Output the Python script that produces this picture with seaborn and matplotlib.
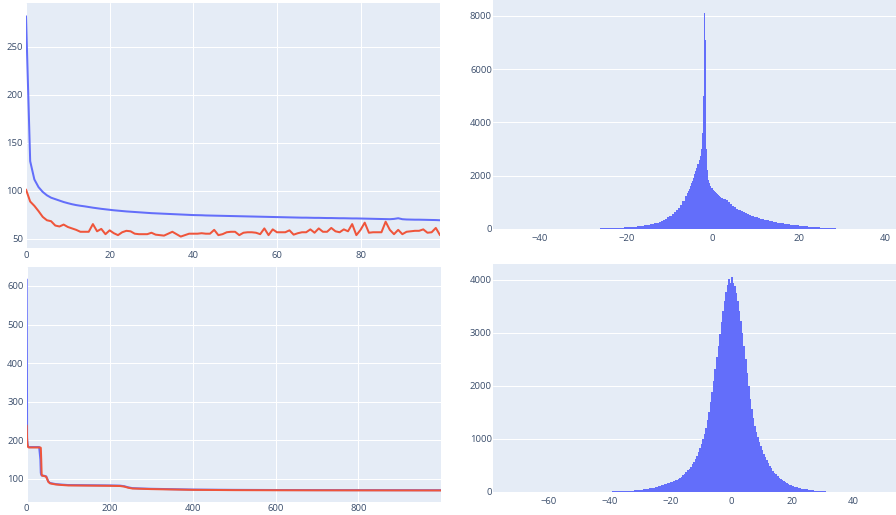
import numpy as np
import pandas as pd
import matplotlib
matplotlib.use("Agg")
import matplotlib.pyplot as plt
import seaborn as sns

# ---------------- data ----------------
# Top-left: per-epoch loss over the first 100 epochs
short_train = [282, 131, 112, 104, 99, 95.5, 93, 91.5, 90, 88.5,
               87.3, 86.2, 85.3, 84.6, 84, 83.3, 82.6, 82, 81.4, 80.9,
               80.4, 79.9, 79.5, 79.1, 78.7, 78.4, 78.1, 77.8, 77.5, 77.2,
               76.9, 76.7, 76.5, 76.3, 76.1, 75.9, 75.7, 75.5, 75.3, 75.1,
               74.9, 74.8, 74.7, 74.5, 74.4, 74.3, 74.2, 74.1, 74.0, 73.9,
               73.8, 73.7, 73.6, 73.5, 73.4, 73.3, 73.2, 73.1, 73.0, 72.9,
               72.8, 72.7, 72.6, 72.5, 72.4, 72.3, 72.2, 72.2, 72.1, 72.0,
               72.0, 71.9, 71.8, 71.8, 71.7, 71.6, 71.6, 71.5, 71.4, 71.4,
               71.3, 71.2, 71.1, 71.0, 70.9, 70.8, 70.7, 70.6, 70.9, 71.6,
               70.6, 70.3, 70.2, 70.1, 70.1, 70.0, 69.9, 69.8, 69.7, 69.5]
short_val = [101.5, 89, 84.5, 79, 73, 69.5, 68.5, 64, 63, 65,
             62.5, 61, 59.5, 57.5, 57.5, 57.5, 65.5, 58, 60.5, 55,
             59, 56, 54, 57, 58.5, 58, 55.5, 55, 55, 55,
             56.5, 54.5, 54, 53.5, 55.5, 57.5, 55, 52.5, 54, 55.5,
             55.5, 55.5, 56, 55.5, 55.5, 59.5, 54, 55, 57, 57.5,
             57.5, 54, 56.5, 57, 57, 56.5, 55, 61, 54, 60,
             57, 57, 57, 59, 54.5, 56, 57, 57, 60, 56.5,
             61, 57.5, 57.5, 61.5, 58, 57, 60, 58, 65.5, 54,
             59.5, 67, 56.5, 57, 57, 57, 68, 59.5, 55, 59.5,
             55, 57.5, 58, 58.5, 58.5, 60, 56.5, 57, 61.5, 54]

# Bottom-left: loss over 1000 epochs
long_epochs = [0, 1, 2, 3, 5, 10, 20, 30, 33, 34, 35, 36, 37, 42, 47, 49,
               52, 56, 60, 70, 80, 100, 150, 200, 225, 235, 245, 255, 270,
               300, 350, 400, 450, 500, 600, 700, 800, 900, 999]
long_train = [617, 205, 190, 184, 182, 182, 182, 182, 150, 115, 110, 109,
              108, 107.5, 106, 101, 93, 89, 88, 86, 85, 83.5, 83, 82.5,
              82, 80.5, 77.5, 75.5, 74.8, 73.8, 72.8, 71.8, 71.4, 71,
              70.6, 70.4, 70.3, 70.2, 70.1]
long_val = [238, 200, 188, 183, 181, 181, 181, 181, 181, 180, 150, 112,
            108, 107, 105, 100, 92, 88, 87, 85, 84, 82.5, 82, 81.5,
            81, 79.5, 76.5, 74.5, 74, 73, 72, 71, 70.7, 70.3,
            70, 69.8, 69.7, 69.6, 69.5]

# Top-right histogram counts (three bin regions: coarse / fine / coarse)
top_counts_left = [3, 0, 2, 0, 8, 12, 17, 22, 26, 29, 32, 35, 38, 41, 44, 48,
                   52, 58, 65, 73, 82, 92, 103, 114, 126, 139, 154, 170, 188,
                   208, 232, 260, 292, 330, 375, 425, 480, 545, 615, 695, 790,
                   900, 1030, 1220]
top_counts_mid = [1330, 1420, 1510, 1600, 1700, 1810, 1920, 2040, 2160, 2290,
                  2430, 2580, 2750, 3000, 3600, 5000, 8100, 7100, 3000, 2200,
                  1850, 1700, 1600, 1520, 1470, 1420, 1380, 1340, 1300, 1265,
                  1230, 1200]
top_counts_right = [1170, 1120, 1065, 1005, 945, 870, 810, 755, 700, 660,
                    620, 580, 545, 510, 478, 450, 423, 398, 374, 352,
                    332, 312, 294, 277, 260, 244, 229, 215, 202, 190,
                    178, 166, 155, 145, 135, 125, 116, 106, 97, 89,
                    82, 75, 68, 62, 55, 49, 43, 37, 31, 25,
                    19, 13, 9, 5, 3, 1]

# Bottom-right histogram counts
bot_counts_left = [2, 4, 5, 7, 9, 12, 15, 19, 24, 29, 36, 44, 53, 63, 75,
                   88, 103, 120, 140, 160]
bot_counts_mid = [175, 185, 198, 212, 228, 246, 265, 287, 312, 340,
                  370, 402, 437, 476, 520, 568, 622, 682, 748, 820,
                  900, 990, 1090, 1210, 1350, 1510, 1690, 1890, 2100, 2320,
                  2540, 2760, 2980, 3200, 3420, 3610, 3780, 3900, 4010, 3950,
                  4050, 3940, 3880, 3760, 3600, 3420, 3220, 3000, 2760, 2500,
                  2240, 1990, 1760, 1560, 1390, 1250, 1130, 1030, 940, 860,
                  785, 715, 650, 590, 535, 485, 440, 398, 360, 325,
                  294, 266, 240, 217, 196, 177, 160, 145, 131, 118,
                  107, 97, 88, 80]
bot_counts_right = [70, 58, 46, 36, 27, 19, 13, 8, 5, 3, 2, 1]

# ---------------- styling ----------------
BLUE = "#636EFA"
RED = "#EF553B"
BG = "#E5ECF6"
TXT = "#3a4d6b"

sns.set_style("darkgrid", {"axes.facecolor": BG, "grid.color": "white",
                           "axes.edgecolor": BG})
plt.rcParams["font.family"] = ["Open Sans", "DejaVu Sans"]
plt.rcParams["axes.unicode_minus"] = True

W, H = 896, 515
fig = plt.figure(figsize=(W / 100, H / 100), dpi=100)
fig.patch.set_facecolor("white")


def box(left, top, right, bottom):
    return [left / W, 1 - bottom / H, (right - left) / W, (bottom - top) / H]


def style(ax, xticks, yticks, xlim, ylim, xgrid=True, ypad=2.2, xpad=2.2):
    ax.set_xlim(*xlim)
    ax.set_ylim(*ylim)
    ax.set_xticks(xticks)
    ax.set_yticks(yticks)
    ax.tick_params(length=0, labelsize=6.8, colors=TXT, pad=ypad, axis="y")
    ax.tick_params(length=0, labelsize=6.8, colors=TXT, pad=xpad, axis="x")
    ax.yaxis.grid(True, color="white", linewidth=0.75)
    if xgrid:
        ax.xaxis.grid(True, color="white", linewidth=0.75)
    else:
        ax.xaxis.grid(False)
    ax.set_xlabel("")
    ax.set_ylabel("")
    for s in ax.spines.values():
        s.set_visible(False)
    ax.set_axisbelow(True)


# ---- top-left: 100 epochs ----
ax1 = fig.add_axes(box(26, 3, 440, 248))
ep_short = np.arange(len(short_train))
sns.lineplot(x=ep_short, y=short_train, ax=ax1, color=BLUE, linewidth=1.45)
sns.lineplot(x=ep_short, y=short_val, ax=ax1, color=RED, linewidth=1.45)
style(ax1, [0, 20, 40, 60, 80], [50, 100, 150, 200, 250], (0, 99), (40.6, 295.8))

# ---- bottom-left: 1000 epochs ----
ax2 = fig.add_axes(box(26.7, 266.7, 441, 502))
sns.lineplot(x=long_epochs, y=long_train, ax=ax2, color=BLUE, linewidth=1.45)
sns.lineplot(x=long_epochs, y=long_val, ax=ax2, color=RED, linewidth=1.45)
style(ax2, [0, 200, 400, 600, 800], [100, 200, 300, 400, 500, 600],
      (0, 999), (39.5, 650), xpad=1.6)

# ---- top-right histogram ----
ax3 = fig.add_axes(box(493.3, 0, 896, 228.7))
top_edges = np.concatenate([np.arange(-28, -6, 0.5), np.arange(-6, 2, 0.25),
                            np.arange(2, 30.01, 0.5)])
top_counts = top_counts_left + top_counts_mid + top_counts_right
top_df = pd.DataFrame({"value": (top_edges[:-1] + top_edges[1:]) / 2,
                       "count": top_counts})
sns.histplot(data=top_df, x="value", weights="count", bins=top_edges.tolist(),
             element="step", fill=True, color=BLUE, alpha=1, linewidth=0,
             ax=ax3)
style(ax3, [-40, -20, 0, 20, 40], [0, 2000, 4000, 6000, 8000],
      (-50.8, 42.5), (0, 8600), xgrid=False, ypad=1.0, xpad=3.5)

# ---- bottom-right histogram ----
ax4 = fig.add_axes(box(493.3, 264, 896, 491.7))
bot_edges = np.concatenate([np.arange(-40, -20, 1.0), np.arange(-20, 22, 0.5),
                            np.arange(22, 34.01, 1.0)])
bot_counts = bot_counts_left + bot_counts_mid + bot_counts_right
bot_df = pd.DataFrame({"value": (bot_edges[:-1] + bot_edges[1:]) / 2,
                       "count": bot_counts})
sns.histplot(data=bot_df, x="value", weights="count", bins=bot_edges.tolist(),
             element="step", fill=True, color=BLUE, alpha=1, linewidth=0,
             ax=ax4)
style(ax4, [-60, -40, -20, 0, 20, 40], [0, 1000, 2000, 3000, 4000],
      (-78, 54), (0, 4302), xgrid=False, ypad=1.0, xpad=3.5)

fig.savefig("out.png", dpi=100)
